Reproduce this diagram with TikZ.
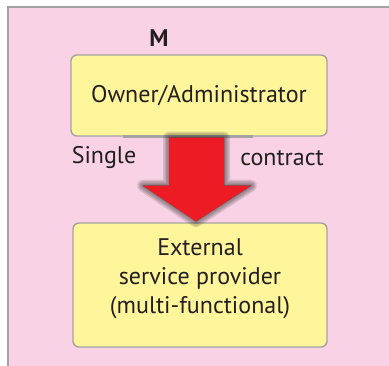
\documentclass[tikz,border=0pt]{standalone}
\usepackage{fontspec}
\setmainfont{PT Sans}
\usetikzlibrary{calc}
\definecolor{pinkbg}{HTML}{F9D3E5}
\definecolor{boxyellow}{HTML}{FFF59B}
\definecolor{boxgray}{HTML}{A3A3A3}
\definecolor{arrowred}{HTML}{ED1C24}
\definecolor{txt}{HTML}{231F20}
\tikzset{
  box/.style={draw=boxgray, line width=1.4pt, fill=boxyellow, rounded corners=6pt, inner sep=0pt},
  lbl/.style={text=txt, font=\fontsize{24}{29}\selectfont, align=center, inner sep=0pt},
  shadowlayer/.style={fill=black!85, draw=black!85, opacity=0.15, line join=round}
}
\begin{document}
\begin{tikzpicture}[x=1pt,y=-1pt]
\useasboundingbox (0,0) rectangle (389,366);
\fill[white] (0,0) rectangle (389,366);
\fill[pinkbg] (8,7) rectangle (389,366);
\draw[boxgray, line width=1.4pt] (8,366) -- (8,7) -- (389,7);

\node[text=txt, font=\bfseries\fontsize{24}{28}\selectfont, inner sep=0pt] (m) at (159,38) {M};
\node[box, minimum width=256, minimum height=81] (owner) at (199,95.5) {};
\node[lbl] (ownertext) at (owner.center) {Owner/Administrator};

\node[box, minimum width=254, minimum height=124] (provider) at (200,285) {};
\node[lbl] (providertext) at ($(provider.center)+(0,-6)$) {External\\service provider\\(multi-functional)};

% gray bar under the top box
\draw[boxgray, line width=2.5pt] ($(owner.south)+(-76,0)$) -- ($(owner.south)+(54,0)$);

% arrow coordinates
\coordinate (top) at ($(owner.south)+(-3,1)$);
\coordinate (tip) at ($(provider.north)+(-4,-1)$);

% blurred shadow
\foreach \w in {12,9,6,3,0.5}{
  \filldraw[shadowlayer, line width=\w pt, shift={(-7,-9)}]
    ($(top)+(-27,0)$) -- ($(top)+(28,0)$) -- ($(top)+(28,48)$) -- ($(top)+(55,48)$) -- (tip)
    -- ($(top)+(-53,48)$) -- ($(top)+(-27,48)$) -- cycle;
}
% red arrow
\fill[arrowred]
    ($(top)+(-27,0)$) -- ($(top)+(28,0)$) -- ($(top)+(28,48)$) -- ($(top)+(55,48)$) -- (tip)
    -- ($(top)+(-53,48)$) -- ($(top)+(-27,48)$) -- cycle;

\node[lbl] (single) at (104,158) {Single};
\node[lbl] (contract) at (282,158) {contract};
\end{tikzpicture}
\end{document}
